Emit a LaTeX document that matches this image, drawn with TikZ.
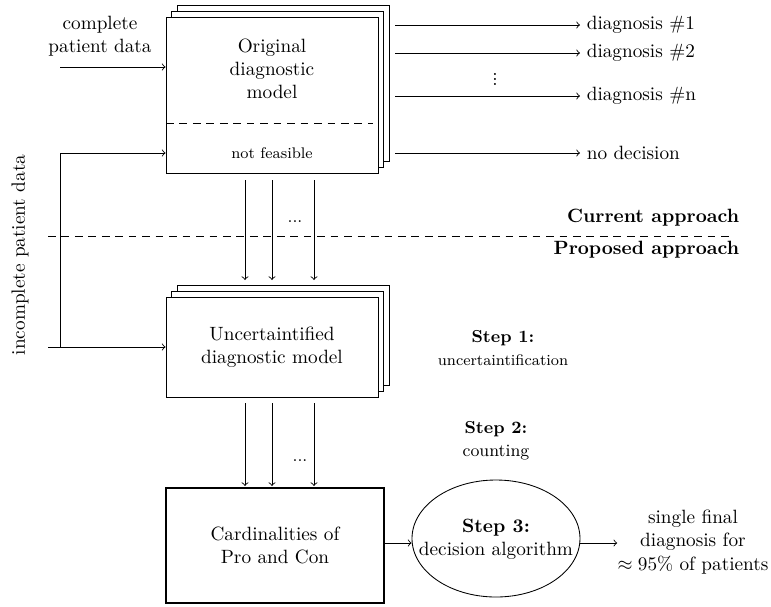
\documentclass[tikz,border=0pt]{standalone}
\usetikzlibrary{shapes.geometric,shadows}
\begin{document}
\begin{tikzpicture}[x=0.52pt,y=-0.52pt,>=to,line width=0.45pt,
  box/.style={draw,fill=white,rectangle,inner sep=0pt,align=center},
  stack/.style={box,double copy shadow={shadow xshift=2.9pt,shadow yshift=2.9pt}},
  lbl/.style={align=center,inner sep=0pt},
  dsh/.style={dash pattern=on 4pt off 3pt}]
\useasboundingbox (0,0) rectangle (771,606);

% main boxes
\node[stack,minimum width=110.24pt,minimum height=81.12pt] (orig) at (272,95) {};
\node[lbl] (origtxt) at (272,69) {Original\\diagnostic\\model};
\node[lbl,font=\footnotesize] (nf) at (272,153) {not feasible};
\coordinate (dl) at (166,123);
\coordinate (dr) at (373,123);
\draw[dsh] (dl) -- (dr);

\node[stack,minimum width=110.24pt,minimum height=52pt] (unc) at (272,347) {Uncertaintified\\diagnostic model};
\node[box,line width=1.4pt,minimum width=113.36pt,minimum height=59.8pt] (card) at (275,545.5) {Cardinalities of\\Pro and Con};
\node[draw,ellipse,minimum width=87.36pt,minimum height=60.84pt,inner sep=0pt] (ell) at (496,538.5) {};
\node[lbl] (elltxt) at (496,539) {\textbf{Step 3:}\\decision algorithm};
\node[lbl] (fin) at (693,542) {single final\\diagnosis for\\$\approx 95\%$ of patients};

% inputs
\node[lbl] (cpd) at (100,36) {complete\\patient data};
\node[lbl,rotate=90] (ipd) at (20,255) {incomplete patient data};
\coordinate (i1) at (60,67);
\coordinate (i2) at (60,153);
\coordinate (i3) at (60,347);
\coordinate (i4) at (48,347);
\draw[->] (i1) -- (i1 -| orig.west);
\draw[->] (i3) -- (i2) -- (i2 -| orig.west);
\draw[->] (i4) -- (unc.west);

% outputs
\node[anchor=west] (d1) at (580,25) {diagnosis \#1};
\node[anchor=west] (d2) at (580,53) {diagnosis \#2};
\node[anchor=west] (dn) at (580,96) {diagnosis \#n};
\node[anchor=west] (nd) at (580,153) {no decision};
\node[lbl] (vd) at (495,79) {\vbox{\baselineskip2.6pt\lineskiplimit-10pt\hbox{.}\hbox{.}\hbox{.}}};
\foreach \n/\y in {d1/25,d2/53,dn/96,nd/153}{
  \coordinate (s\n) at (395,\y);
  \draw[->] (s\n) -- (\n.west);
}

% divider
\coordinate (dvl) at (48,236);
\coordinate (dvr) at (734,236);
\draw[dsh] (dvl) -- (dvr);
\node[anchor=east,font=\bfseries] (cur) at (746,218) {Current approach};
\node[anchor=east,font=\bfseries] (pro) at (746,250) {Proposed approach};

% vertical arrows
\foreach \x in {245,272,314}{
  \coordinate (a\x) at (\x,180);
  \coordinate (b\x) at (\x,280);
  \draw[->] (a\x) -- (b\x);
  \coordinate (c\x) at (\x,403);
  \coordinate (e\x) at (\x,486);
  \draw[->] (c\x) -- (e\x);
}
\node[lbl,font=\small] (dots1) at (295,222) {...};
\node[lbl,font=\small] (dots2) at (300,461) {...};

% steps
\node[lbl] (s1) at (503,348) {\small\textbf{Step 1:}\\\footnotesize uncertaintification};
\node[lbl] (s2) at (496,441) {\small\textbf{Step 2:}\\\small counting};

% card to ellipse
\coordinate (m) at (0,543);
\draw[->] (m -| card.east) -- (m -| ell.west);
\draw[->] (m -| ell.east) -- (m -| fin.west);
\end{tikzpicture}
\end{document}
